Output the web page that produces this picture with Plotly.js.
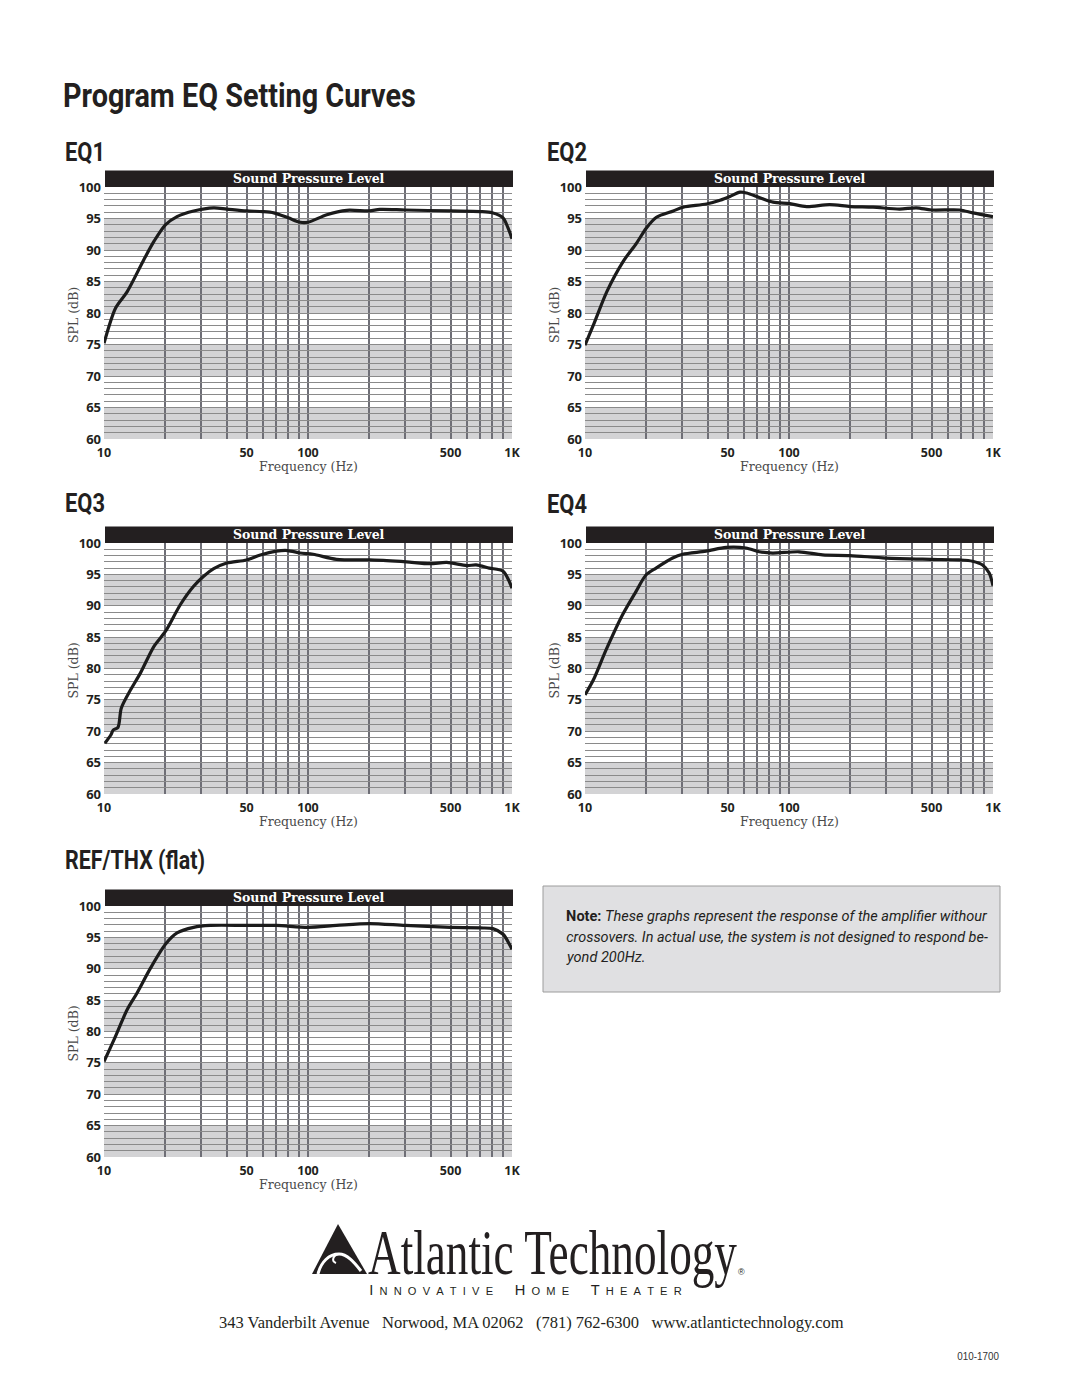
<!DOCTYPE html>
<html>
<head>
<meta charset="utf-8">
<script src="https://cdn.plot.ly/plotly-3.0.1.min.js"></script>
<style>
  html, body { margin: 0; padding: 0; background: #ffffff; }
  #chart { width: 1080px; height: 1397px; }
</style>
</head>
<body>
<div id="chart"></div>
<script>
// ---------------- DATA ----------------
const pageTitle = 'Program EQ Setting Curves';
const panelNames = ['EQ1', 'EQ2', 'EQ3', 'EQ4', 'REF/THX (flat)'];
const headerText = 'Sound Pressure Level';
const xAxisTitle = 'Frequency (Hz)';
const yAxisTitle = 'SPL (dB)';

const freqEQ1 = [10, 11.4, 13.0, 15.7, 17.6, 20, 22.8, 27.5, 34.5, 40, 50, 60, 68, 80, 91.5, 100, 123.6, 155, 200, 225, 300, 500, 700, 800, 904, 956, 1000];
const splEQ1  = [75.2, 80.8, 83.4, 88.5, 91.4, 94.0, 95.3, 96.2, 96.7, 96.5, 96.2, 96.1, 95.9, 95.1, 94.4, 94.4, 95.6, 96.3, 96.2, 96.45, 96.35, 96.2, 96.1, 95.9, 95.1, 93.5, 91.8];

const freqEQ2 = [10, 11.0, 12.8, 15.4, 17.9, 20, 22.4, 27.1, 30.3, 39.4, 45.9, 51.3, 57.5, 62, 72, 83.6, 101, 122, 158, 200, 258, 348, 421, 500, 686, 797, 1000];
const splEQ2  = [74.9, 78.1, 83.4, 88.2, 91.1, 93.5, 95.2, 96.2, 96.8, 97.3, 97.9, 98.5, 99.2, 99.05, 98.3, 97.6, 97.35, 96.9, 97.2, 96.9, 96.8, 96.5, 96.7, 96.35, 96.35, 95.9, 95.3];

const freqEQ3 = [10.1, 10.8, 11.1, 11.7, 12.16, 13.5, 15.1, 17.55, 20, 23.7, 27.5, 30.8, 34.5, 40, 50, 58.4, 70, 79.5, 91.5, 106, 138, 200, 243, 304, 396, 479, 600, 667, 774, 904, 1000];
const splEQ3  = [68.1, 69.4, 70.2, 70.6, 73.7, 76.6, 79.3, 83.5, 85.9, 90.2, 93.1, 94.7, 95.9, 96.8, 97.3, 98.1, 98.7, 98.8, 98.4, 98.2, 97.4, 97.3, 97.2, 97.0, 96.7, 96.9, 96.4, 96.5, 96.0, 95.5, 92.8];

const freqEQ4 = [10, 11.0, 12.7, 15.3, 17.8, 19.9, 22.3, 26.9, 30.1, 39.2, 49.2, 61.5, 71.5, 83, 112, 146, 199, 298, 494, 683, 794, 889, 958, 1000];
const splEQ4  = [75.8, 78.2, 83.0, 88.6, 92.3, 94.9, 96.0, 97.6, 98.2, 98.7, 99.3, 99.2, 98.6, 98.4, 98.6, 98.1, 98.0, 97.6, 97.4, 97.3, 97.1, 96.5, 95.2, 93.2];

const freqREF = [10, 11.2, 13.0, 14.5, 16.9, 20, 22.8, 27.5, 33.2, 50, 70, 100, 138, 200, 300, 500, 700, 806, 904, 1000];
const splREF  = [75.2, 78.7, 83.5, 86.1, 90.1, 93.9, 95.7, 96.6, 96.9, 96.9, 96.9, 96.6, 96.9, 97.2, 96.9, 96.6, 96.5, 96.4, 95.5, 93.1];

const freqTickVals = [10, 20, 30, 40, 50, 60, 70, 80, 90, 100, 200, 300, 400, 500, 600, 700, 800, 900, 1000];
const freqTickText = ['10', '', '', '', '50', '', '', '', '', '100', '', '', '', '500', '', '', '', '', '1K'];
const splTickVals = [60, 61, 62, 63, 64, 65, 66, 67, 68, 69, 70, 71, 72, 73, 74, 75, 76, 77, 78, 79, 80,
                     81, 82, 83, 84, 85, 86, 87, 88, 89, 90, 91, 92, 93, 94, 95, 96, 97, 98, 99, 100];
const splTickText = ['60', '', '', '', '', '65', '', '', '', '', '70', '', '', '', '', '75', '', '', '', '', '80',
                     '', '', '', '', '85', '', '', '', '', '90', '', '', '', '', '95', '', '', '', '', '100'];
const bandStarts = [60, 70, 80, 90];
const bandEnds   = [65, 75, 85, 95];

const noteLines = [
  '<b>Note:</b> <i>These graphs represent the response of the amplifier withour</i>',
  '<i>crossovers. In actual use, the system is not designed to respond be-</i>',
  '<i>yond 200Hz.</i>'
];
const brandName = 'Atlantic Technology';
const tagline = 'INNOVATIVE HOME THEATER';
const addressLine = '343 Vanderbilt Avenue&nbsp;&nbsp; Norwood, MA 02062&nbsp;&nbsp; (781) 762-6300&nbsp;&nbsp; www.atlantictechnology.com';
const docCode = '010-1700';

// ---------------- LAYOUT ----------------
const W = 1080, H = 1397;
const px = v => v / W;
const py = v => 1 - v / H;

const seriesF = [freqEQ1, freqEQ2, freqEQ3, freqEQ4, freqREF];
const seriesS = [splEQ1, splEQ2, splEQ3, splEQ4, splREF];
// panel boxes in page pixels: [left, right, top, bottom]
const boxes = [
  [104, 512, 187, 439],
  [585, 993, 187, 439],
  [104, 512, 543, 794],
  [585, 993, 543, 794],
  [104, 512, 906, 1157]
];
const labelPos = [[63, 152], [545, 152], [63, 503], [545, 505], [63, 860]];
const labelWidth = [40, 40, 40, 40, 140];

const sansFont = 'Roboto, Noto Sans, Arial, sans-serif';
const serifFont = 'DejaVu Serif, Liberation Serif, serif';
const tickFontFam = 'Noto Sans, Open Sans, sans-serif';

const traces = [];
const shapes = [];
const annotations = [];
const squeeze = {};   // annotation index -> target width in px (horizontal condensing)

const layout = {
  width: W, height: H,
  margin: {l: 0, r: 0, t: 0, b: 0},
  paper_bgcolor: '#ffffff',
  plot_bgcolor: '#ffffff',
  showlegend: false,
  title: {
    text: '<b>' + pageTitle + '</b>',
    x: px(63), xanchor: 'left', xref: 'paper',
    y: py(95), yanchor: 'middle', yref: 'paper',
    font: {family: sansFont, size: 34, color: '#231f20'}
  }
};

function addAnn(a, targetW) {
  annotations.push(a);
  if (targetW) squeeze[annotations.length - 1] = targetW;
}

boxes.forEach((b, i) => {
  const n = i + 1;
  const xa = 'xaxis' + (n === 1 ? '' : n);
  const ya = 'yaxis' + (n === 1 ? '' : n);
  const xr = 'x' + (n === 1 ? '' : n);
  const yr = 'y' + (n === 1 ? '' : n);
  layout[xa] = {
    type: 'log', range: [1, 3], domain: [px(b[0]), px(b[1])], anchor: yr,
    tickmode: 'array', tickvals: freqTickVals, ticktext: freqTickText,
    showgrid: true, gridcolor: '#6e6e76', gridwidth: 2,
    zeroline: false, showline: false, ticks: '',
    ticklabelstandoff: 4,
    tickfont: {family: tickFontFam, size: 12.5, color: '#231f20', weight: 'bold'},
    fixedrange: true
  };
  layout[ya] = {
    range: [60, 100], domain: [py(b[3]), py(b[2])], anchor: xr,
    tickmode: 'array', tickvals: splTickVals, ticktext: splTickText,
    showgrid: true, gridcolor: '#8a8a8a', gridwidth: 1,
    zeroline: false, showline: false, ticks: '',
    tickfont: {family: tickFontFam, size: 13, color: '#231f20', weight: 'bold'},
    ticklabelstandoff: 2,
    fixedrange: true
  };
  traces.push({
    x: seriesF[i], y: seriesS[i], xaxis: xr, yaxis: yr,
    type: 'scatter', mode: 'lines',
    line: {color: '#1b1b1b', width: 3.2, shape: 'spline', smoothing: 0.8},
    hoverinfo: 'skip'
  });
  // grey bands
  bandStarts.forEach((s, k) => {
    shapes.push({
      type: 'rect', xref: xr + ' domain', yref: yr, x0: 0, x1: 1, y0: s, y1: bandEnds[k],
      fillcolor: '#d3d3d5', line: {width: 0}, layer: 'below'
    });
  });
  // black header bar
  shapes.push({
    type: 'rect', xref: 'paper', yref: 'paper',
    x0: px(b[0] + 1), x1: px(b[1] + 1), y0: py(b[2]), y1: py(b[2] - 16.5),
    fillcolor: '#231f20', line: {width: 0}
  });
  addAnn({
    text: '<b>' + headerText + '</b>', xref: 'paper', yref: 'paper',
    x: px((b[0] + b[1]) / 2 + 1), y: py(b[2] - 8.5), xanchor: 'center', yanchor: 'middle',
    showarrow: false, font: {family: serifFont, size: 12.5, color: '#ffffff'}
  });
  // axis titles
  addAnn({
    text: xAxisTitle, xref: 'paper', yref: 'paper',
    x: px((b[0] + b[1]) / 2), y: py(b[3] + 27), xanchor: 'center', yanchor: 'middle',
    showarrow: false, font: {family: serifFont, size: 12.5, color: '#4a4a4a'}
  });
  addAnn({
    text: yAxisTitle, xref: 'paper', yref: 'paper', textangle: -90,
    x: px(b[0] - 31), y: py((b[2] + b[3]) / 2 + 2), xanchor: 'center', yanchor: 'middle',
    showarrow: false, font: {family: serifFont, size: 12.5, color: '#4a4a4a'}
  });
  // panel label
  addAnn({
    text: '<b>' + panelNames[i] + '</b>', xref: 'paper', yref: 'paper',
    x: px(labelPos[i][0]), y: py(labelPos[i][1]), xanchor: 'left', yanchor: 'middle',
    showarrow: false, font: {family: sansFont, size: 25, color: '#231f20'}
  }, labelWidth[i]);
});

// note box
shapes.push({
  type: 'rect', xref: 'paper', yref: 'paper',
  x0: px(543), x1: px(1000), y0: py(992), y1: py(886),
  fillcolor: '#e0e0e2', line: {color: '#9c9c9c', width: 1}
});
const noteWidths = [422, 422, null];
const noteIdx = [];
noteLines.forEach((t, k) => {
  addAnn({
    text: t, xref: 'paper', yref: 'paper',
    x: px(564), y: py(916 + k * 20.5), xanchor: 'left', yanchor: 'middle',
    showarrow: false, font: {family: sansFont, size: 15, color: '#231f20'}
  }, noteWidths[k]);
  noteIdx.push(annotations.length - 1);
});

// logo mark (triangle with a white wave crest)
const toP = (x, y) => px(x).toFixed(5) + ',' + py(y).toFixed(5);
shapes.push({
  type: 'path', xref: 'paper', yref: 'paper',
  path: 'M' + toP(312, 1274) + ' L' + toP(338, 1224) + ' L' + toP(367, 1274) + ' Z',
  fillcolor: '#231f20', line: {width: 0}
});
shapes.push({
  type: 'path', xref: 'paper', yref: 'paper',
  path: 'M' + toP(318, 1274) + ' C' + toP(321, 1262) + ' ' + toP(329, 1254) + ' ' + toP(339, 1254) +
        ' C' + toP(347, 1254) + ' ' + toP(354, 1262) + ' ' + toP(361, 1271),
  line: {color: '#ffffff', width: 3}
});
shapes.push({
  type: 'path', xref: 'paper', yref: 'paper',
  path: 'M' + toP(339, 1254) + ' C' + toP(333, 1255) + ' ' + toP(331, 1261) + ' ' + toP(336, 1263),
  line: {color: '#ffffff', width: 2}
});
addAnn({
  text: brandName, xref: 'paper', yref: 'paper',
  x: px(366), y: py(1252), xanchor: 'left', yanchor: 'middle',
  showarrow: false, font: {family: 'Liberation Serif, DejaVu Serif, serif', size: 64, color: '#231f20'}
}, 369);
addAnn({
  text: '®', xref: 'paper', yref: 'paper',
  x: px(741), y: py(1272), xanchor: 'center', yanchor: 'middle',
  showarrow: false, font: {family: 'Liberation Sans, sans-serif', size: 9, color: '#231f20'}
});
const spaced = tagline.split(' ').map(w =>
  '<span style="font-size:14.5px">' + w[0] + '</span>' + w.slice(1).split('').map(c => '&nbsp;&nbsp;' + c).join('')
).join('&nbsp;&nbsp;&nbsp;&nbsp;&nbsp;&nbsp;&nbsp;');
addAnn({
  text: spaced, xref: 'paper', yref: 'paper',
  x: px(367), y: py(1290), xanchor: 'left', yanchor: 'middle',
  showarrow: false, font: {family: 'Liberation Sans, Arial, sans-serif', size: 11, color: '#231f20'}
}, 313);
addAnn({
  text: addressLine, xref: 'paper', yref: 'paper',
  x: px(531), y: py(1322), xanchor: 'center', yanchor: 'middle',
  showarrow: false, font: {family: 'Liberation Serif, serif', size: 16.5, color: '#231f20'}
});
addAnn({
  text: docCode, xref: 'paper', yref: 'paper',
  x: px(978), y: py(1356), xanchor: 'center', yanchor: 'middle',
  showarrow: false, font: {family: 'Liberation Sans, sans-serif', size: 10, color: '#333333'}
}, 42);

layout.shapes = shapes;
layout.annotations = annotations;

function condense(textEl, scale, anchorMode) {
  const bb = textEl.getBBox();
  const ax = anchorMode === 'center' ? bb.x + bb.width / 2 : bb.x;
  textEl.setAttribute('transform',
    'translate(' + ax + ',0) scale(' + scale + ',1) translate(' + (-ax) + ',0)');
}

Plotly.newPlot('chart', traces, layout, {staticPlot: true, displayModeBar: false}).then(gd => {
  const scales = {};
  document.querySelectorAll('g.annotation').forEach(g => {
    const idx = +g.getAttribute('data-index');
    if (squeeze[idx]) {
      const t = g.querySelector('text.annotation-text');
      if (!t) return;
      const s = Math.min(1.2, squeeze[idx] / t.getBBox().width);
      scales[idx] = s;
      condense(t, s, annotations[idx].xanchor);
    }
  });
  // last note line uses the same condensing as the first line
  const g3 = document.querySelector('g.annotation[data-index="' + noteIdx[2] + '"] text.annotation-text');
  if (g3 && scales[noteIdx[0]]) condense(g3, scales[noteIdx[0]], 'left');
  // page title
  const tt = document.querySelector('.g-gtitle text');
  if (tt) condense(tt, 353 / tt.getBBox().width, 'left');
});
</script>
</body>
</html>
